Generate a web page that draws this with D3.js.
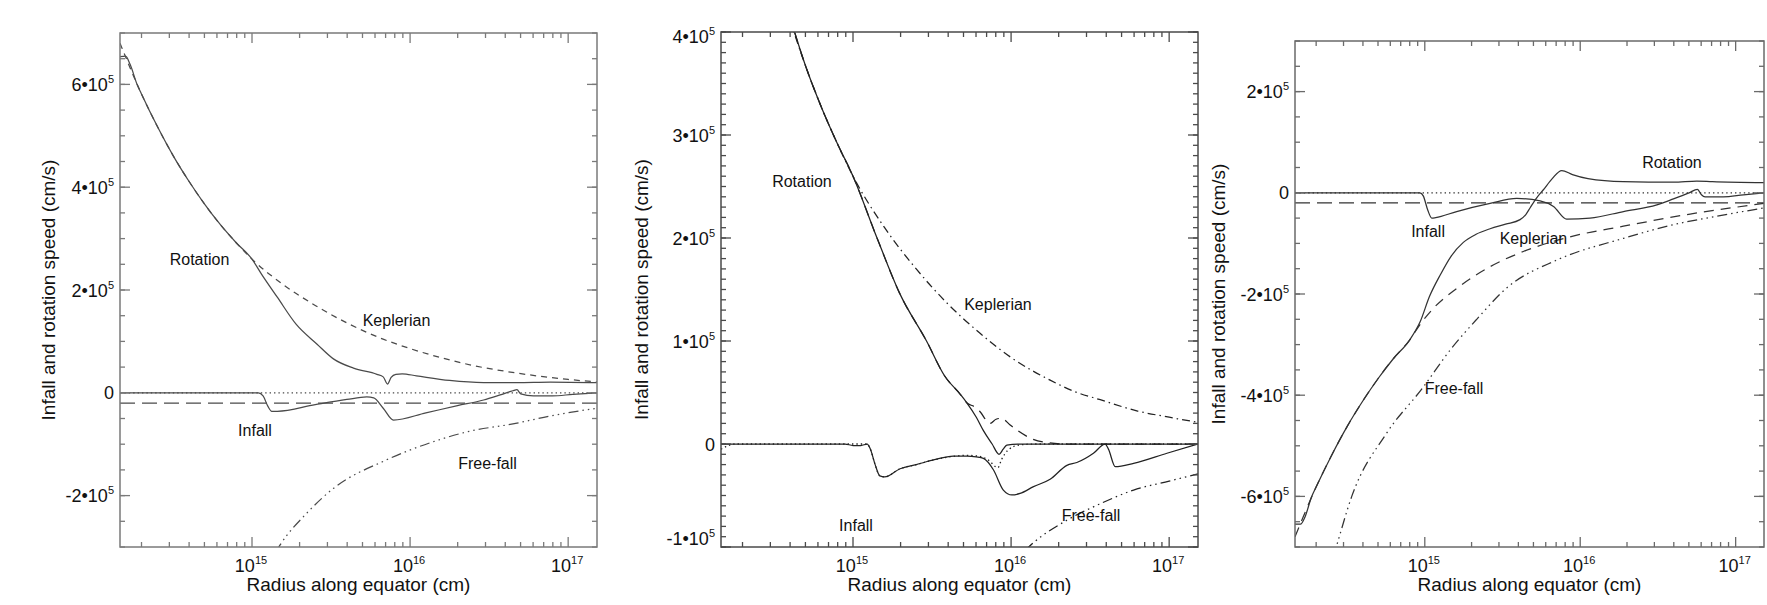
<!DOCTYPE html>
<html><head><meta charset="utf-8">
<script src="https://cdn.jsdelivr.net/npm/d3@7"></script>
<style>
body{margin:0;background:#fff}
svg{display:block}
text{font-family:"Liberation Sans",Arial,Helvetica,sans-serif;fill:#111}
</style>
</head><body>
<svg id="c" width="1767" height="605"></svg>
<script>
// ---------- data (radius as log10(cm), speed in units of 1e5 cm/s) ----------
const SPEED_UNIT = 1e5;
const xDomain = [1.462e14, 1.522e17];
const xMajorTicks = [1e15, 1e16, 1e17];
const xMajorExponents = ["15", "16", "17"];
const xTitle = "Radius along equator (cm)";
const yTitle = "Infall and rotation speed (cm/s)";

// panel 1
const p1YTicks = [-2e5, 0, 2e5, 4e5, 6e5];
const p1YTickLabels = [["-2•10","5"],["0",""],["2•10","5"],["4•10","5"],["6•10","5"]];
const p1Rotation = [[14.165,6.54],[14.2,6.55],[14.23,6.38],[14.273,6.0],[14.3,5.82],[14.4,5.19],[14.5,4.62],[14.6,4.12],[14.7,3.67],[14.8,3.27],[14.9,2.92],[15.0,2.6],[15.06,2.31],[15.16,1.86],[15.28,1.33],[15.41,0.95],[15.515,0.66],[15.642,0.48],[15.79,0.36],[15.83,0.31],[15.857,0.17],[15.88,0.3],[15.91,0.36],[15.95,0.37],[16.04,0.33],[16.25,0.24],[16.465,0.2],[16.676,0.2],[16.887,0.21],[17.1825,0.2]];
const p1Keplerian = [[14.165,6.8],[14.3,5.82],[14.4,5.19],[14.5,4.62],[14.6,4.12],[14.7,3.67],[14.8,3.27],[14.9,2.92],[15.0,2.6],[15.2,2.1],[15.4,1.7],[15.6,1.36],[15.8,1.08],[16.0,0.86],[16.2,0.68],[16.4,0.53],[16.6,0.42],[16.8,0.33],[17.0,0.26],[17.1825,0.21]];
const p1Infall = [[14.165,0],[15.04,0],[15.07,-0.06],[15.1,-0.26],[15.125,-0.36],[15.16,-0.36],[15.4,-0.23],[15.6,-0.13],[15.726,-0.08],[15.77,-0.1],[15.83,-0.3],[15.895,-0.53],[16.1,-0.39],[16.3,-0.25],[16.465,-0.14],[16.57,-0.04],[16.65,0.04],[16.676,0.06],[16.7,-0.02],[16.78,-0.06],[16.9,-0.06],[17.03,-0.03],[17.1825,0]];
const p1Zero = [[14.165,0],[17.1825,0]];
const p1Offset = [[14.165,-0.2],[17.1825,-0.2]];
const p1FreeFall = [[15.15,-3.1],[15.178,-2.96],[15.347,-2.34],[15.515,-1.86],[15.84,-1.32],[16.148,-0.95],[16.36,-0.76],[16.676,-0.59],[16.887,-0.45],[17.1825,-0.3]];
const p1Labels = [["Rotation",14.668,2.603],["Keplerian",15.914,1.407],["Infall",15.019,-0.743],["Free-fall",16.49,-1.376]];

// panel 2
const p2YTicks = [-1e5, 0, 1e5, 2e5, 3e5, 4e5];
const p2YTickLabels = [["-1•10","5"],["0",""],["1•10","5"],["2•10","5"],["3•10","5"],["4•10","5"]];
const p2Rotation = [[14.6,4.15],[14.7,3.67],[14.8,3.27],[14.9,2.92],[15.0,2.6],[15.152,2.0],[15.296,1.46],[15.465,1.0],[15.58,0.66],[15.68,0.48],[15.72,0.4],[15.78,0.26],[15.825,0.13],[15.88,0.0],[15.924,-0.1],[15.95,-0.05],[15.973,-0.01],[16.05,0],[17.1825,0]];
const p2Dashed = [[14.6,4.15],[14.7,3.67],[14.8,3.27],[14.9,2.92],[15.0,2.6],[15.152,2.0],[15.296,1.46],[15.465,1.0],[15.58,0.66],[15.68,0.48],[15.72,0.4],[15.77,0.36],[15.8,0.32],[15.867,0.2],[15.905,0.24],[15.94,0.25],[15.99,0.19],[16.036,0.136],[16.14,0.045],[16.245,0.01],[16.35,0],[17.1825,0]];
const p2Keplerian = [[14.6,4.12],[14.7,3.67],[14.8,3.27],[14.9,2.92],[15.0,2.6],[15.2,2.1],[15.4,1.7],[15.6,1.36],[15.8,1.08],[16.0,0.84],[16.247,0.62],[16.4,0.51],[16.564,0.43],[16.8,0.32],[17.0,0.26],[17.1825,0.21]];
const p2Infall = [[14.165,0],[14.95,0],[15.0,-0.015],[15.05,-0.015],[15.09,0],[15.11,-0.05],[15.14,-0.2],[15.17,-0.31],[15.2,-0.32],[15.298,-0.24],[15.4,-0.2],[15.509,-0.155],[15.635,-0.117],[15.72,-0.117],[15.78,-0.125],[15.825,-0.14],[15.888,-0.25],[15.951,-0.447],[16.005,-0.495],[16.057,-0.48],[16.142,-0.414],[16.247,-0.343],[16.353,-0.207],[16.416,-0.18],[16.521,-0.09],[16.595,0.0],[16.616,-0.05],[16.659,-0.22],[16.775,-0.188],[16.986,-0.09],[17.1825,0]];
const p2Dotted = [[14.165,-0.05],[14.19,-0.03],[14.25,0],[15.09,0],[15.11,-0.05],[15.14,-0.2],[15.17,-0.31],[15.2,-0.32],[15.298,-0.24],[15.4,-0.2],[15.509,-0.155],[15.635,-0.12],[15.72,-0.11],[15.8,-0.12],[15.86,-0.16],[15.916,-0.23],[15.94,-0.15],[15.98,-0.06],[16.05,-0.01],[16.15,0],[17.1825,0]];
const p2FreeFall = [[16.09,-1.03],[16.148,-0.95],[16.353,-0.74],[16.564,-0.58],[16.775,-0.447],[17.0,-0.36],[17.1825,-0.29]];
const p2Labels = [["Rotation",14.677,2.553],["Keplerian",15.917,1.35],["Infall",15.019,-0.796],["Free-fall",16.506,-0.699]];

// panel 3
const p3YTicks = [-6e5, -4e5, -2e5, 0, 2e5];
const p3YTickLabels = [["-6•10","5"],["-4•10","5"],["-2•10","5"],["0",""],["2•10","5"]];
const p3Rotation = [[14.165,-6.55],[14.2,-6.55],[14.23,-6.4],[14.27,-6.02],[14.3,-5.82],[14.4,-5.19],[14.5,-4.62],[14.6,-4.12],[14.7,-3.67],[14.8,-3.27],[14.9,-2.92],[14.97,-2.55],[15.03,-2.05],[15.1,-1.62],[15.17,-1.25],[15.248,-0.98],[15.33,-0.82],[15.42,-0.71],[15.52,-0.62],[15.613,-0.53],[15.65,-0.43],[15.677,-0.3],[15.72,-0.1],[15.763,0.06],[15.82,0.28],[15.881,0.44],[15.95,0.36],[16.05,0.28],[16.278,0.22],[16.6,0.21],[16.75,0.23],[16.85,0.22],[17.1825,0.2]];
const p3Keplerian = [[14.165,-6.8],[14.3,-5.82],[14.4,-5.19],[14.5,-4.62],[14.6,-4.12],[14.7,-3.67],[14.8,-3.27],[14.9,-2.92],[14.97,-2.6],[15.05,-2.3],[15.205,-1.89],[15.42,-1.46],[15.634,-1.16],[15.935,-0.87],[16.278,-0.66],[16.707,-0.42],[17.1825,-0.21]];
const p3Infall = [[14.165,0],[14.969,0],[14.99,-0.06],[15.02,-0.35],[15.045,-0.5],[15.07,-0.49],[15.205,-0.37],[15.42,-0.21],[15.592,-0.11],[15.742,-0.16],[15.828,-0.27],[15.913,-0.52],[16.063,-0.5],[16.278,-0.37],[16.493,-0.24],[16.6,-0.12],[16.7,0.0],[16.754,0.07],[16.78,-0.04],[16.803,-0.08],[16.92,-0.08],[17.05,-0.04],[17.1825,0]];
const p3Zero = [[14.165,0],[17.1825,0]];
const p3Offset = [[14.165,-0.2],[17.1825,-0.2]];
const p3FreeFall = [[14.41,-7.2],[14.43,-7.0],[14.53,-6.0],[14.75,-4.77],[14.98,-3.88],[15.178,-3.05],[15.334,-2.5],[15.527,-1.88],[15.849,-1.33],[16.278,-0.9],[16.6,-0.63],[16.9,-0.45],[17.1825,-0.3]];
const p3Labels = [["Rotation",16.59,0.599],["Keplerian",15.699,-0.913],["Infall",15.021,-0.769],["Free-fall",15.188,-3.877]];

// ---------- styles / layout ----------
const DASH = {
  solid: null,
  dotted: "1.4,3",
  shortDash: "6,5",
  medDash: "10,7",
  longDash: "15,7",
  dashDot: "8,4,1.5,4",
  dashDot3: "10,4,1.5,4,1.5,4,1.5,4"
};

const panels = [
  {box:{l:120,t:33,r:597,b:547}, yDomain:[-3e5,7e5], yTicks:p1YTicks, yTickLabels:p1YTickLabels, yMinorStep:0.5e5,
   frame:"#7a7a7a", ink:"#4a4a4a", titleX:55,
   series:[[p1Zero,"dotted"],[p1Offset,"longDash"],[p1Keplerian,"shortDash"],[p1FreeFall,"dashDot3"],[p1Infall,"solid"],[p1Rotation,"solid"]],
   labels:p1Labels},
  {box:{l:721,t:32,r:1198,b:547}, yDomain:[-1e5,4e5], yTicks:p2YTicks, yTickLabels:p2YTickLabels, yMinorStep:0.1e5,
   frame:"#4a4a4a", ink:"#222", titleX:648,
   series:[[p2Dotted,"dotted"],[p2Dashed,"medDash"],[p2Keplerian,"dashDot"],[p2FreeFall,"dashDot3"],[p2Infall,"solid"],[p2Rotation,"solid"]],
   labels:p2Labels},
  {box:{l:1295,t:41,r:1764,b:547}, yDomain:[-7e5,3e5], yTicks:p3YTicks, yTickLabels:p3YTickLabels, yMinorStep:0.5e5,
   frame:"#6a6a6a", ink:"#333", titleX:1225,
   series:[[p3Zero,"dotted"],[p3Offset,"longDash"],[p3Keplerian,"medDash"],[p3FreeFall,"dashDot3"],[p3Infall,"solid"],[p3Rotation,"solid"]],
   labels:p3Labels}
];

const svg = d3.select("#c");
svg.append("rect").attr("width",1767).attr("height",605).attr("fill","#fff");
const defs = svg.append("defs");

panels.forEach((p, i) => {
  const b = p.box;
  const x = d3.scaleLog().domain(xDomain).range([b.l, b.r]);
  const y = d3.scaleLinear().domain(p.yDomain).range([b.b, b.t]);
  const g = svg.append("g");

  const clipId = "clip" + i;
  defs.append("clipPath").attr("id", clipId).append("rect")
    .attr("x", b.l).attr("y", b.t).attr("width", b.r - b.l).attr("height", b.b - b.t);

  const line = d3.line()
    .x(d => x(Math.pow(10, d[0])))
    .y(d => y(d[1] * SPEED_UNIT))
    .curve(d3.curveMonotoneX);

  const curves = g.append("g").attr("clip-path", `url(#${clipId})`);
  p.series.forEach(([data, style]) => {
    curves.append("path").attr("d", line(data))
      .attr("fill", "none").attr("stroke", p.ink)
      .attr("stroke-width", style === "dotted" ? 1.3 : 1.25)
      .attr("stroke-dasharray", DASH[style]);
  });

  // frame
  g.append("rect").attr("x", b.l).attr("y", b.t).attr("width", b.r - b.l).attr("height", b.b - b.t)
    .attr("fill", "none").attr("stroke", p.frame).attr("stroke-width", 1.5);

  // x ticks (bottom & top, inward)
  const xMinor = x.ticks(30).filter(v => {
    const m = v / Math.pow(10, Math.floor(Math.log10(v) + 1e-9));
    return Math.abs(m - 1) > 1e-6 && v >= xDomain[0] && v <= xDomain[1];
  });
  const ticks = g.append("g").attr("stroke", p.frame).attr("stroke-width", 1.3);
  xMinor.forEach(v => {
    ticks.append("line").attr("x1", x(v)).attr("x2", x(v)).attr("y1", b.b).attr("y2", b.b - 5);
    ticks.append("line").attr("x1", x(v)).attr("x2", x(v)).attr("y1", b.t).attr("y2", b.t + 5);
  });
  xMajorTicks.forEach(v => {
    ticks.append("line").attr("x1", x(v)).attr("x2", x(v)).attr("y1", b.b).attr("y2", b.b - 10);
    ticks.append("line").attr("x1", x(v)).attr("x2", x(v)).attr("y1", b.t).attr("y2", b.t + 10);
  });
  // y ticks
  const yMinor = d3.range(p.yDomain[0], p.yDomain[1] + 1, p.yMinorStep);
  yMinor.forEach(v => {
    ticks.append("line").attr("x1", b.l).attr("x2", b.l + 5).attr("y1", y(v)).attr("y2", y(v));
    ticks.append("line").attr("x1", b.r).attr("x2", b.r - 5).attr("y1", y(v)).attr("y2", y(v));
  });
  p.yTicks.forEach(v => {
    ticks.append("line").attr("x1", b.l).attr("x2", b.l + 10).attr("y1", y(v)).attr("y2", y(v));
    ticks.append("line").attr("x1", b.r).attr("x2", b.r - 10).attr("y1", y(v)).attr("y2", y(v));
  });

  // x tick labels
  xMajorTicks.forEach((v, k) => {
    const t = g.append("text").attr("x", x(v) - 1).attr("y", b.b + 25)
      .attr("text-anchor", "middle").attr("font-size", 18);
    t.append("tspan").text("10");
    t.append("tspan").attr("font-size", 11).attr("dy", -8).text(xMajorExponents[k]);
  });

  // y tick labels
  p.yTicks.forEach((v, k) => {
    let yy = y(v) + 6.5;
    if (v === p.yDomain[1]) yy += 4;
    if (v === p.yDomain[0]) yy -= 9;
    const lab = p.yTickLabels[k];
    const t = g.append("text").attr("x", b.l - 6).attr("y", yy)
      .attr("text-anchor", "end").attr("font-size", 18);
    t.append("tspan").text(lab[0]);
    if (lab[1]) t.append("tspan").attr("font-size", 11).attr("dy", -8).text(lab[1]);
  });

  // axis titles
  g.append("text").attr("x", (b.l + b.r) / 2).attr("y", 591)
    .attr("text-anchor", "middle").attr("font-size", 19).text(xTitle);
  const cy = (b.t + b.b) / 2;
  g.append("text").attr("transform", `translate(${p.titleX},${cy}) rotate(-90)`)
    .attr("text-anchor", "middle").attr("font-size", 19).text(yTitle);

  // curve labels
  p.labels.forEach(([txt, lr, v]) => {
    g.append("text").attr("x", x(Math.pow(10, lr))).attr("y", y(v * SPEED_UNIT))
      .attr("text-anchor", "middle").attr("dominant-baseline", "central")
      .attr("font-size", 16).text(txt);
  });
});
</script>
</body></html>
